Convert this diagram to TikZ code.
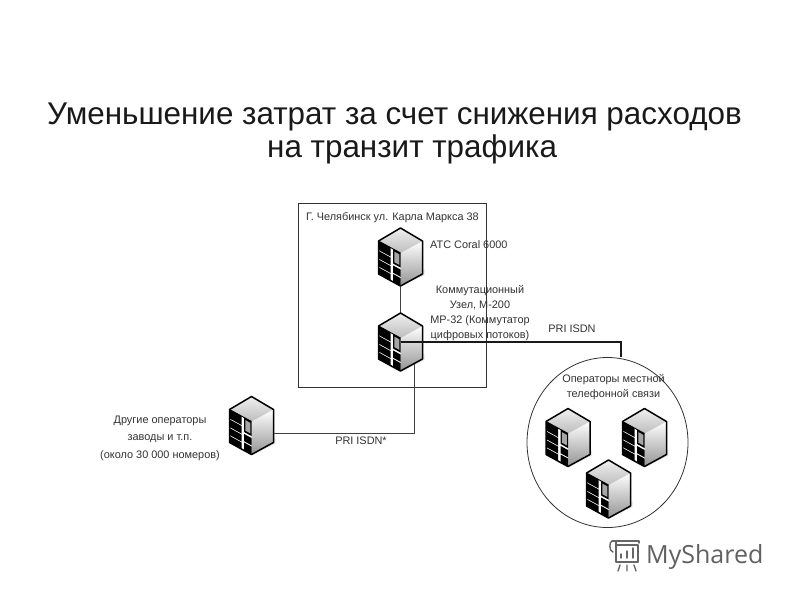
\documentclass[tikz,border=0pt]{standalone}
\usepackage{fontspec}
\setmainfont{Liberation Sans}
\newfontfamily\wmfont{Open Sans}
\usetikzlibrary{shapes.geometric}
\definecolor{txt}{gray}{0.2}
\newcommand{\fq}[5]{\fill[#5] (#1,#3) -- (#2,#3) -- (#2,#4) -- (#1,#4) -- cycle;}
\tikzset{
  x=1pt,y=-1pt,
  titletext/.style={font=\fontsize{31.4}{33}\selectfont,text=black!90,anchor=base west,inner sep=0},
  lbl/.style={font=\fontsize{10.9}{15}\selectfont,text=txt,align=center,inner sep=0},
  wire/.style={draw=black!75,line width=1pt},
  boldwire/.style={draw=black!90,line width=1.5pt},
  anchorbox/.style={minimum width=45pt,minimum height=58pt,inner sep=0},
  server/.pic={
    \fill[black!25,opacity=.35] (-12,24) -- (0,30) -- (24,18) -- (24,12) -- cycle;
    \shade[left color=white,right color=black!42,shading angle=0] (0,-4) -- (22,-16) -- (22,17) -- (0,29) -- cycle;
    \shade[top color=black!6,bottom color=black!26] (0,-29) -- (22,-16) -- (0,-4) -- (-22,-16) -- cycle;
    \fill[white] (-22,-16) -- (0,-4) -- (0,29) -- (-22,17) -- cycle;
    \begin{scope}[shift={(-22,-16)},x={(22,12)},y={(0,33)}]
      \fq{0}{.55}{0}{.27}{black}
      \fq{0}{.55}{.3}{.53}{black}
      \fq{0}{.55}{.56}{.77}{black}
      \fq{0}{.55}{.8}{1}{black}
      \fq{.66}{1}{0}{.44}{black}
      \fq{.72}{.95}{.06}{.38}{black!35}
      \fq{.66}{1}{.5}{.72}{black}
      \fq{.66}{1}{.76}{1}{black}
    \end{scope}
    \draw[black,line width=1.5pt,line join=round] (0,-29) -- (22,-16) -- (22,17) -- (0,29) -- (-22,17) -- (-22,-16) -- cycle;
    \draw[black,line width=.9pt] (-22,-16) -- (0,-4);
  }
}
\begin{document}
\begin{tikzpicture}
\useasboundingbox[fill=white] (0,0) rectangle (800,600);

\node[titletext] (t1) at (47,124) {Уменьшение затрат за счет снижения расходов};
\node[titletext] (t2) at (267,157) {на транзит трафика};

\node[draw=black!80,line width=1pt,minimum width=188pt,minimum height=184pt,inner sep=0] (site) at (392,295) {};
\node[ellipse,draw=black!80,line width=.8pt,minimum width=161pt,minimum height=170pt,inner sep=0] (ops) at (607.5,442.5) {};

\node[anchorbox] (s1) at (400.5,257) {};
\node[anchorbox] (s2) at (400.5,342) {};
\node[anchorbox] (s3) at (251.5,425.5) {};
\node[anchorbox] (s4) at (568,437.5) {};
\node[anchorbox] (s5) at (644.5,437.5) {};
\node[anchorbox] (s6) at (608.5,489) {};

\draw[wire] (s1.south) -- (s2.north);
\foreach \n/\p in {s1/{400.5,257},s2/{400.5,342},s3/{251.5,425.5},s4/{568,437.5},s5/{644.5,437.5},s6/{608.5,489}}
  \pic at (\p) {server};

\coordinate (opsin) at (621,357);
\coordinate (s2b) at (414,364);
\coordinate (s3b) at (274,433);
\draw[boldwire] (s2.center) -| (opsin);
\draw[wire] (s2b) |- (s3b);

\node[lbl] (l1) at (392.5,217.5) {Г. Челябинск ул. Карла Маркса 38};
\node[lbl,anchor=west] (l2) at (430,245) {АТС Coral 6000};
\node[lbl] (l3) at (480,313) {Коммутационный\\Узел, М-200\\МР-32 (Коммутатор\\цифровых потоков)};
\node[lbl] (l4) at (572,329) {PRI ISDN};
\node[lbl] (l5) at (361,441) {PRI ISDN*};
\node[lbl,font=\fontsize{10.9}{17.5}\selectfont] (l6) at (160,438) {Другие операторы\\заводы и т.п.\\(около 30 000 номеров)};
\node[lbl] (l7) at (613.5,387.5) {Операторы местной\\телефонной связи};

\begin{scope}[draw=black!60,line width=1.4pt,line cap=round,line join=round]
  \draw (612,541) -- (639,541) -- (639,543) (616,545) -- (638,545) -- (638,562) -- (616,562) -- (616,541);
  \draw (612,541) .. controls (609,541) and (609,552) .. (613,552);
  \draw (621,558) -- (621,554) (627,558) -- (627,551) (633,558) -- (633,548);
  \draw (620,565) -- (618,571) (627,565) -- (627,571) (634,565) -- (636,571);
\end{scope}
\node[anchor=base west,inner sep=0,font=\wmfont\fontsize{25}{25}\selectfont,text=black!62] (wm) at (646,563) {MyShared};
\end{tikzpicture}
\end{document}
